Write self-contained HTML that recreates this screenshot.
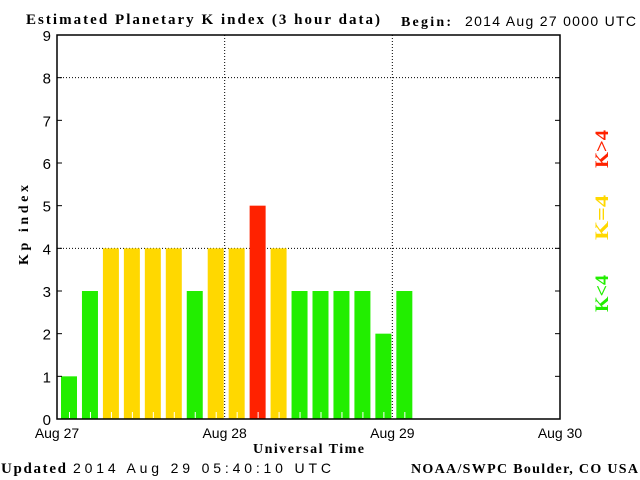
<!DOCTYPE html>
<html><head><meta charset="utf-8"><style>
body{margin:0;background:#fff;}
svg{display:block;font-family:"Liberation Sans",sans-serif;}
.s{font-family:"Liberation Serif",serif;font-weight:bold;}
</style></head><body>
<svg id="c" width="640" height="480">
<text x="26" y="24" class="s" font-size="15" textLength="354" lengthAdjust="spacing">Estimated Planetary K index (3 hour data)</text>
<text x="401" y="26" class="s" font-size="14" textLength="50" lengthAdjust="spacing">Begin:</text>
<text x="465" y="26" font-size="14" textLength="171" lengthAdjust="spacing">2014 Aug 27 0000 UTC</text>
<text x="1" y="473" class="s" font-size="15" textLength="65" lengthAdjust="spacing">Updated</text>
<text x="73" y="473" font-size="14" textLength="258" lengthAdjust="spacing">2014 Aug 29 05:40:10 UTC</text>
<text x="411" y="473" class="s" font-size="14" textLength="227" lengthAdjust="spacing">NOAA/SWPC Boulder, CO USA</text>
<text x="253" y="453" class="s" font-size="14" textLength="111" lengthAdjust="spacing">Universal Time</text>
<text transform="translate(28,265) rotate(-90)" class="s" font-size="14" textLength="80" lengthAdjust="spacing">Kp index</text>
<text transform="translate(608,168) rotate(-90)" class="s" font-size="19" fill="#ff2200" textLength="38" lengthAdjust="spacingAndGlyphs">K&gt;4</text>
<text transform="translate(608,240) rotate(-90)" class="s" font-size="19" fill="#ffd800" textLength="45" lengthAdjust="spacingAndGlyphs">K=4</text>
<text transform="translate(608,312) rotate(-90)" class="s" font-size="19" fill="#22ee00" textLength="37" lengthAdjust="spacingAndGlyphs">K&lt;4</text>
<g id="grid"></g><g id="bars"></g><g id="axes"></g>
</svg>
<script>
const kpValues=[1,3,4,4,4,4,3,4,4,5,4,3,3,3,3,2,3];
const yTicks=[0,1,2,3,4,5,6,7,8,9];
const dayLabels=["Aug 27","Aug 28","Aug 29","Aug 30"];
const gridY=[4,8];
const NS="http://www.w3.org/2000/svg";
const L=57,R=560,T=35,B=419;
const y=v=>B-(B-T)*v/9;
const xd=d=>L+(R-L)*d/3;
function mk(tag,attrs,parent){const e=document.createElementNS(NS,tag);for(const k in attrs)e.setAttribute(k,attrs[k]);parent.appendChild(e);return e;}
const grid=document.getElementById('grid'),bars=document.getElementById('bars'),axes=document.getElementById('axes');
gridY.forEach(v=>{const l=mk('line',{x1:L,x2:R,y1:y(v),y2:y(v),stroke:'#000','stroke-dasharray':'1,2'},grid);

});
[1,2].forEach(d=>{const l=mk('line',{x1:xd(d),x2:xd(d),y1:T,y2:B,stroke:'#000','stroke-dasharray':'1,2'},grid);

});
const slot=(R-L)/24;
kpValues.forEach((v,i)=>{
 const c=v>4?'#ff2200':(v==4?'#ffd800':'#22ee00');
 const x0=L+4+i*slot;
 const r=mk('rect',{x:x0,y:y(v),width:16,height:B-y(v),fill:c},bars);
 
 
 const t=mk('line',{x1:x0+8.5,x2:x0+8.5,y1:B-7,y2:B-1,stroke:'#fff'},bars);
 
 
});
const f=mk('rect',{x:L,y:T,width:R-L,height:B-T,fill:'none',stroke:'#000','stroke-width':1.5},axes);


yTicks.forEach(v=>{
 const t=mk('text',{x:L-6,y:y(v)+6,'text-anchor':'end','font-size':15},axes);t.textContent=v;
 
 
 mk('line',{x1:L,x2:L+5,y1:y(v),y2:y(v),stroke:'#000'},axes);
 mk('line',{x1:R-5,x2:R,y1:y(v),y2:y(v),stroke:'#000'},axes);
});
dayLabels.forEach((s,d)=>{
 const t=mk('text',{x:xd(d),y:438,'text-anchor':'middle','font-size':14},axes);t.textContent=s;
 
 
});
</script>
</body></html>
